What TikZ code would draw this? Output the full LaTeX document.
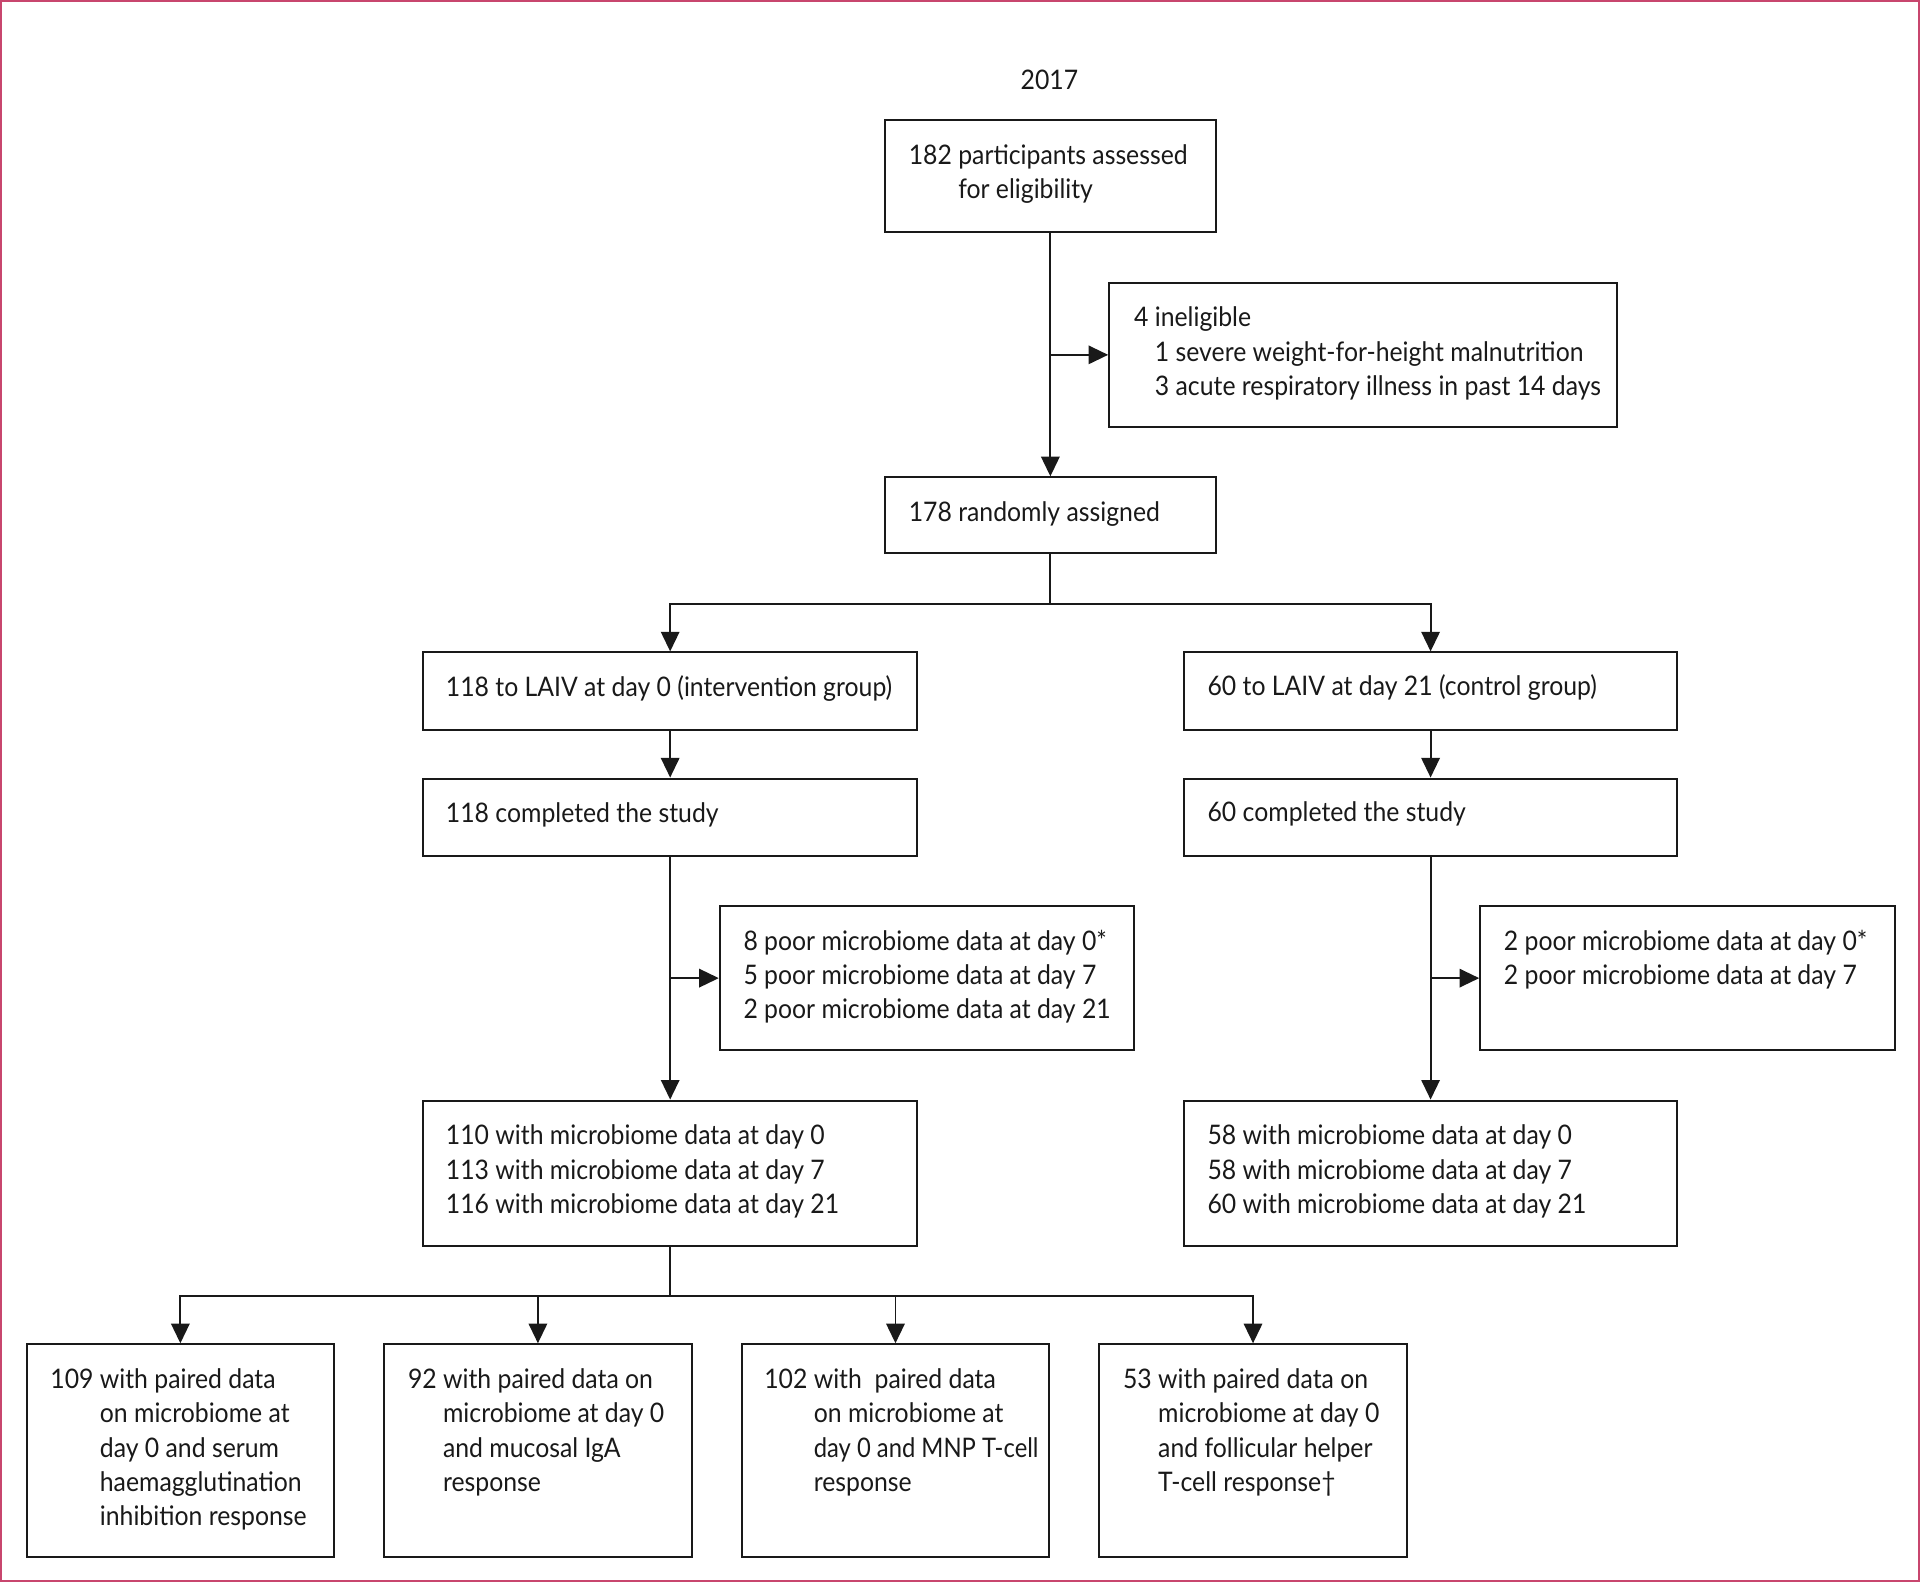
\documentclass[tikz,border=0pt]{standalone}
\usepackage{fontspec}
\usepackage{graphicx}
\setmainfont[FakeStretch=0.92]{Lato}
\usetikzlibrary{arrows.meta,calc}
\definecolor{framecol}{RGB}{200,70,110}
\definecolor{ink}{RGB}{25,25,25}
\tikzset{
  boxst/.style={draw=ink, line width=1.6pt, inner sep=0pt, anchor=north west, rectangle},
  txt/.style={anchor=base west, inner sep=0pt, text=ink, font=\fontsize{22}{28}\selectfont},
  conn/.style={draw=ink, line width=1.6pt},
  arr/.style={conn, -{Triangle[length=16pt,width=15pt]}},
}
\begin{document}
\begin{tikzpicture}[x=1pt,y=-1pt]
\useasboundingbox (0,0) rectangle (1568,1292);
\draw[framecol, line width=1.6pt] (0.8,0.8) rectangle (1567.2,1291.2);

\node[txt, anchor=base] (year) at (857,73) {2017};

% boxes
\node[boxst, minimum width=270pt, minimum height=92pt] (A) at (722,97) {};
\node[boxst, minimum width=415pt, minimum height=118pt] (C) at (905,230) {};
\node[boxst, minimum width=270pt, minimum height=62pt] (B) at (722,389) {};
\node[boxst, minimum width=403pt, minimum height=63pt] (D) at (345,532) {};
\node[boxst, minimum width=403pt, minimum height=63pt] (E) at (966,532) {};
\node[boxst, minimum width=403pt, minimum height=63pt] (F) at (345,635) {};
\node[boxst, minimum width=403pt, minimum height=63pt] (G) at (966,635) {};
\node[boxst, minimum width=338pt, minimum height=118pt] (I) at (587,739) {};
\node[boxst, minimum width=339pt, minimum height=118pt] (K) at (1208,739) {};
\node[boxst, minimum width=403pt, minimum height=119pt] (H) at (345,898) {};
\node[boxst, minimum width=403pt, minimum height=119pt] (J) at (966,898) {};
\node[boxst, minimum width=251pt, minimum height=174pt] (L1) at (21,1097) {};
\node[boxst, minimum width=251pt, minimum height=174pt] (L2) at (313,1097) {};
\node[boxst, minimum width=251pt, minimum height=174pt] (L3) at (605,1097) {};
\node[boxst, minimum width=251pt, minimum height=174pt] (L4) at (897,1097) {};

% texts
\node[txt] (A1) at (742,134) {182 participants assessed};
\node[txt] (A2) at (742,162) {\phantom{182 }for eligibility};

\node[txt] (C1) at (926,267) {4 ineligible};
\node[txt] (C2) at (943,295) {1 severe weight-for-height malnutrition};
\node[txt] (C3) at (943,323) {3 acute respiratory illness in past 14 days};

\node[txt] (B1) at (742,426) {178 randomly assigned};

\node[txt] (D1) at (364,569) {118 to LAIV at day 0 (intervention group)};
\node[txt] (E1) at (986,568) {60 to LAIV at day 21 (control group)};
\node[txt] (F1) at (364,672) {118 completed the study};
\node[txt] (G1) at (986,671) {60 completed the study};

\node[txt] (I1) at (607,776) {8 poor microbiome data at day 0*};
\node[txt] (I2) at (607,804) {5 poor microbiome data at day 7};
\node[txt] (I3) at (607,832) {2 poor microbiome data at day 21};

\node[txt] (K1) at (1228,776) {2 poor microbiome data at day 0*};
\node[txt] (K2) at (1228,804) {2 poor microbiome data at day 7};

\node[txt] (H1) at (364,935) {110 with microbiome data at day 0};
\node[txt] (H2) at (364,963) {113 with microbiome data at day 7};
\node[txt] (H3) at (364,991) {116 with microbiome data at day 21};

\node[txt] (J1) at (986,935) {58 with microbiome data at day 0};
\node[txt] (J2) at (986,963) {58 with microbiome data at day 7};
\node[txt] (J3) at (986,991) {60 with microbiome data at day 21};

\node[txt] (La1) at (41,1134) {109 with paired data};
\node[txt] (La2) at (41,1162) {\phantom{109 }on microbiome at};
\node[txt] (La3) at (41,1190) {\phantom{109 }day 0 and serum};
\node[txt] (La4) at (41,1218) {\phantom{109 }haemagglutination};
\node[txt] (La5) at (41,1246) {\phantom{109 }inhibition response};

\node[txt] (Lb1) at (333,1134) {92 with paired data on};
\node[txt] (Lb2) at (333,1162) {\phantom{92 }microbiome at day 0};
\node[txt] (Lb3) at (333,1190) {\phantom{92 }and mucosal IgA};
\node[txt] (Lb4) at (333,1218) {\phantom{92 }response};

\node[txt] (Lc1) at (624,1134) {102 with~ paired data};
\node[txt] (Lc2) at (624,1162) {\phantom{102 }on microbiome at};
\node[txt] (Lc3) at (624,1190) {\phantom{102 }\scalebox{0.96}[1]{day 0 and MNP T-cell}};
\node[txt] (Lc4) at (624,1218) {\phantom{102 }response};

\node[txt] (Ld1) at (917,1134) {53 with paired data on};
\node[txt] (Ld2) at (917,1162) {\phantom{53 }microbiome at day 0};
\node[txt] (Ld3) at (917,1190) {\phantom{53 }and follicular helper};
\node[txt] (Ld4) at (917,1218) {\phantom{53 }T-cell response†};

% connectors
\draw[arr] (A.south) -- (B.north);
\coordinate (ac) at (A.south |- C.west);
\draw[arr] (ac) -- (C.west);

\coordinate (bs) at ($(B.south)+(0,41)$);
\draw[conn] (B.south) -- (bs);
\draw[arr] (bs) -| (D.north);
\draw[arr] (bs) -| (E.north);

\draw[arr] (D.south) -- (F.north);
\draw[arr] (E.south) -- (G.north);

\draw[arr] (F.south) -- (H.north);
\coordinate (fi) at (F.south |- I.west);
\draw[arr] (fi) -- (I.west);

\draw[arr] (G.south) -- (J.north);
\coordinate (gk) at (G.south |- K.west);
\draw[arr] (gk) -- (K.west);

\coordinate (hs) at ($(H.south)+(0,40)$);
\draw[conn] (H.south) -- (hs);
\draw[arr] (hs) -| (L1.north);
\draw[arr] (hs) -| (L2.north);
\draw[arr] (hs) -| (L3.north);
\draw[arr] (hs) -| (L4.north);
\end{tikzpicture}
\end{document}
